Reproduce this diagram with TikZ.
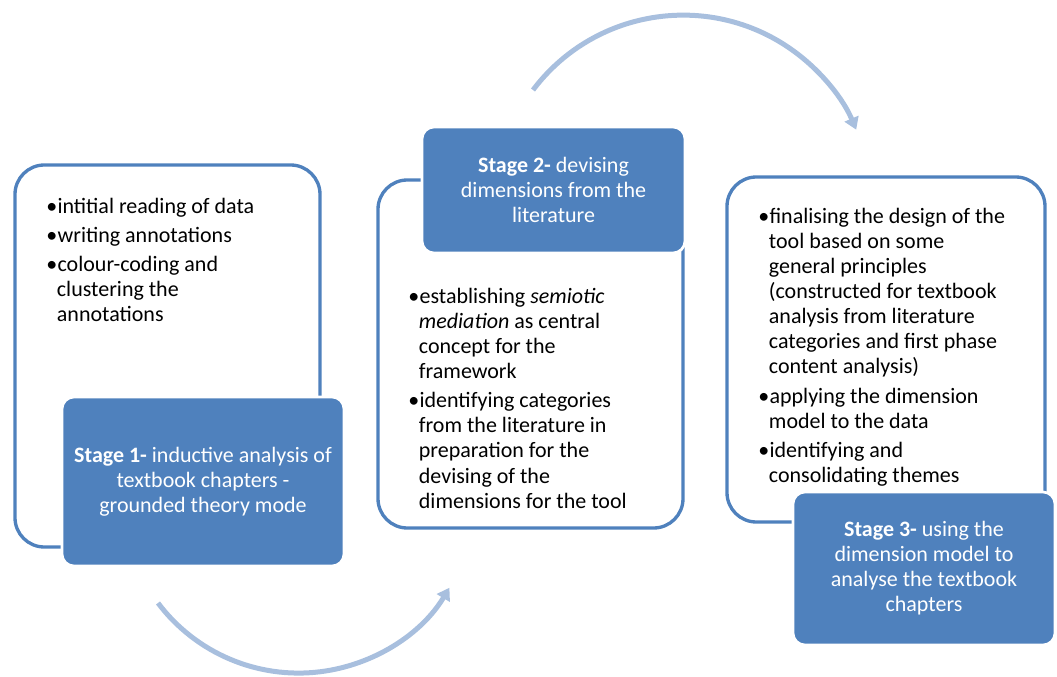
\documentclass[tikz,border=0pt]{standalone}
\usepackage{fontspec}
\setmainfont{Carlito}
\usepackage{tikz}
\usetikzlibrary{arrows.meta}

\definecolor{stageblue}{RGB}{79,129,189}
\definecolor{arcblue}{RGB}{168,191,222}
\newcommand{\bul}{\makebox[8.5pt][l]{\textbullet}}
\newcommand{\ind}{\hspace*{8pt}}

\tikzset{
  outlinebox/.style={draw=stageblue, line width=2.5pt, rounded corners=22pt, fill=white},
  stagebox/.style={draw=white, line width=2pt, fill=stageblue, rounded corners=9pt},
  listtext/.style={anchor=north west, inner sep=0pt, align=left, font=\fontsize{16.5}{18.8}\selectfont},
  stagetext/.style={inner sep=0pt, align=center, text=white, font=\fontsize{16.5}{18.8}\selectfont},
  cyclearc/.style={draw=arcblue, line width=3.75pt, -{Triangle[length=9pt,width=11pt]}}
}

\begin{document}
\begin{tikzpicture}[x=0.75pt,y=0.75pt,yscale=-1,xscale=1]
\useasboundingbox (0,0) rectangle (1057,677);

%Shape: outline of stage 1
\draw [outlinebox] (15,165) rectangle (320,547);
%Shape: outline of stage 2
\draw [outlinebox] (378,180) rectangle (683,528);
%Shape: outline of stage 3
\draw [outlinebox] (727,177) rectangle (1045,522);

%Shape: stage boxes
\draw [stagebox] (62,397) rectangle (344,566);
\draw [stagebox] (422,127) rectangle (685,253);
\draw [stagebox] (793,492) rectangle (1055,645);

%Arcs between the stages
\coordinate (arcTopStart) at (533,90);
\coordinate (arcBottomStart) at (158,603);
\draw [cyclearc] (arcTopStart) arc[start angle=217, end angle=337, radius=188];
\draw [cyclearc] (arcBottomStart) arc[start angle=143, end angle=31, radius=176];

% Text Node
\node (listA) [listtext] at (46,198) {\bul intitial reading of data\\[3pt]
  \bul writing annotations\\[3pt]
  \bul colour-coding and\\ \ind clustering the\\ \ind annotations};
% Text Node
\node (listB) [listtext] at (408,288) {\bul establishing \textit{semiotic}\\
  \ind\textit{mediation} as central\\ \ind concept for the\\ \ind framework\\[3pt]
  \bul identifying categories\\ \ind from the literature in\\ \ind preparation for the\\
  \ind devising of the\\ \ind dimensions for the tool};
% Text Node
\node (listC) [listtext] at (758,208) {\bul finalising the design of the\\
  \ind tool based on some\\ \ind general principles\\ \ind (constructed for textbook\\
  \ind analysis from literature\\ \ind categories and first phase\\ \ind content analysis)\\[3pt]
  \bul applying the dimension\\ \ind model to the data\\[3pt]
  \bul identifying and\\ \ind consolidating themes};

% Text Node
\node (stageA) [stagetext] at (203,481.5) {\textbf{Stage 1-} inductive analysis of\\ textbook chapters -\\ grounded theory mode};
% Text Node
\node (stageB) [stagetext] at (553.5,190) {\textbf{Stage 2-} devising\\ dimensions from the\\ literature};
% Text Node
\node (stageC) [stagetext] at (924,568) {\textbf{Stage 3-} using the\\ dimension model to\\ analyse the textbook\\ chapters};
\end{tikzpicture}
\end{document}
